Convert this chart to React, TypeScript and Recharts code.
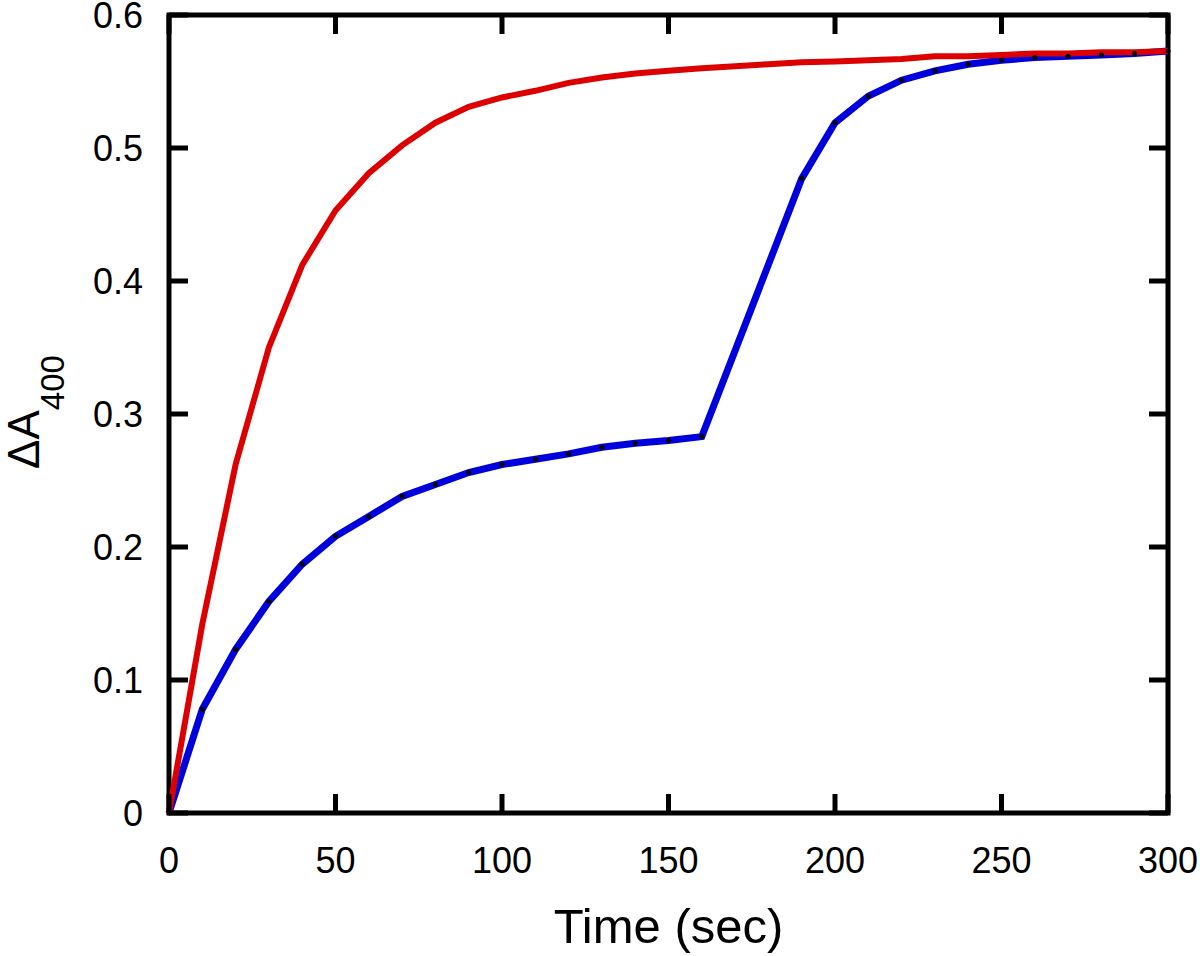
import { Line, LineChart, ReferenceArea, XAxis, YAxis } from "recharts";

// time in seconds, one reading every 10 s
const times = [
  0, 10, 20, 30, 40, 50, 60, 70, 80, 90, 100, 110, 120, 130, 140, 150, 160, 170,
  180, 190, 200, 210, 220, 230, 240, 250, 260, 270, 280, 290, 300
];

const redValues = [
  0, 0.142, 0.262, 0.35, 0.412, 0.453, 0.481, 0.502, 0.519, 0.531, 0.538, 0.543,
  0.549, 0.553, 0.556, 0.558, 0.56, 0.5615, 0.563, 0.5645, 0.565, 0.566, 0.567,
  0.569, 0.569, 0.57, 0.571, 0.571, 0.572, 0.572, 0.573
];

// no readings at 170 and 180 s
const blueValues: Array<number | null> = [
  0, 0.078, 0.123, 0.159, 0.187, 0.208, 0.223, 0.238, 0.247, 0.256, 0.262, 0.266,
  0.27, 0.275, 0.278, 0.28, 0.283, null, null, 0.477, 0.519, 0.539, 0.551, 0.558,
  0.563, 0.566, 0.568, 0.569, 0.57, 0.571, 0.573
];

const xTicks = [0, 50, 100, 150, 200, 250, 300];
const yTicks = [0, 0.1, 0.2, 0.3, 0.4, 0.5, 0.6];

const data = times.map((t, i) => ({ t, red: redValues[i], blue: blueValues[i] }));

const WIDTH = 1200;
const HEIGHT = 956;
const MARGIN = { top: 15, right: 32, left: 0, bottom: 0 };
const Y_AXIS_WIDTH = 169;
const X_AXIS_HEIGHT = 143;
const PLOT_TOP = MARGIN.top;
const PLOT_RIGHT = WIDTH - MARGIN.right;
const TICK_LEN = 19;
const FONT = '"Liberation Sans", Arial, sans-serif';

function XTick(props: any) {
  const { x, y, payload } = props;
  return (
    <g>
      <line x1={x} y1={y} x2={x} y2={y - TICK_LEN} stroke="#000" strokeWidth={5} />
      <line x1={x} y1={PLOT_TOP} x2={x} y2={PLOT_TOP + TICK_LEN} stroke="#000" strokeWidth={5} />
      <text x={x} y={y + 60} textAnchor="middle" fontSize={36} fontFamily={FONT} fill="#000">
        {payload.value}
      </text>
    </g>
  );
}

function YTick(props: any) {
  const { x, y, payload } = props;
  return (
    <g>
      <line x1={x} y1={y} x2={x + TICK_LEN} y2={y} stroke="#000" strokeWidth={5} />
      <line x1={PLOT_RIGHT} y1={y} x2={PLOT_RIGHT - TICK_LEN} y2={y} stroke="#000" strokeWidth={5} />
      <text
        x={x - 26}
        y={y}
        dy={13}
        textAnchor="end"
        fontSize={36}
        fontFamily={FONT}
        fill="#000"
      >
        {String(payload.value)}
      </text>
    </g>
  );
}

function XTitle(props: any) {
  const { viewBox } = props;
  const cx = viewBox.x + viewBox.width / 2;
  return (
    <text x={cx} y={943} textAnchor="middle" fontSize={49} fontFamily={FONT} fill="#000">
      Time (sec)
    </text>
  );
}

function YTitle() {
  const x = 39;
  const y = 412;
  return (
    <text
      x={x}
      y={y}
      transform={`rotate(-90, ${x}, ${y})`}
      textAnchor="middle"
      fontSize={44}
      fontFamily={FONT}
      fill="#000"
    >
      ΔA
      <tspan fontSize={33} dy={25}>
        400
      </tspan>
    </text>
  );
}

export default function App() {
  return (
    <div style={{ position: "absolute", left: 0, top: 0, background: "#fff" }}>
      <LineChart width={WIDTH} height={HEIGHT} data={data} margin={MARGIN}>
        <ReferenceArea
          x1={0}
          x2={300}
          y1={0}
          y2={0.6}
          fill="none"
          stroke="#000"
          strokeWidth={5}
          fillOpacity={0}
        />
        <XAxis
          dataKey="t"
          type="number"
          domain={[0, 300]}
          ticks={xTicks}
          height={X_AXIS_HEIGHT}
          tickSize={0}
          tickMargin={0}
          tickLine={false}
          axisLine={false}
          tick={<XTick />}
          interval={0}
          label={{ content: <XTitle /> }}
        />
        <YAxis
          type="number"
          domain={[0, 0.6]}
          ticks={yTicks}
          width={Y_AXIS_WIDTH}
          tickSize={0}
          tickMargin={0}
          tickLine={false}
          axisLine={false}
          tick={<YTick />}
          interval={0}
          label={{ content: <YTitle /> }}
        />
        <Line
          dataKey="blue"
          type="linear"
          stroke="#0000dd"
          strokeWidth={7}
          dot={false}
          connectNulls
          isAnimationActive={false}
        />
        <Line
          dataKey="red"
          type="linear"
          stroke="#dd0000"
          strokeWidth={6}
          dot={false}
          isAnimationActive={false}
        />
        <Line
          dataKey="blue"
          type="linear"
          stroke="none"
          dot={{ r: 2.5, fill: "#000", stroke: "none" }}
          activeDot={false}
          connectNulls
          isAnimationActive={false}
        />
      </LineChart>
    </div>
  );
}
